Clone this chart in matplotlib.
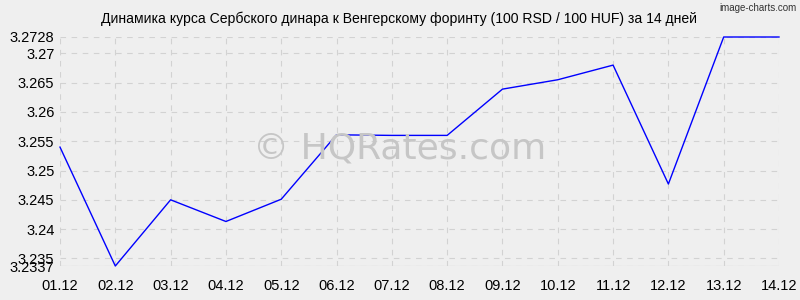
import matplotlib
matplotlib.use("Agg")
import matplotlib.pyplot as plt

dates = ["01.12", "02.12", "03.12", "04.12", "05.12", "06.12", "07.12",
         "08.12", "09.12", "10.12", "11.12", "12.12", "13.12", "14.12"]
rates = [3.2540, 3.2337, 3.2450, 3.2413, 3.2451, 3.2561, 3.2560,
         3.2560, 3.2639, 3.2655, 3.2680, 3.2477, 3.2728, 3.2728]
yticks = [3.2337, 3.235, 3.24, 3.245, 3.25, 3.255, 3.26, 3.265, 3.27, 3.2728]
ytick_labels = ["3.2337", "3.235", "3.24", "3.245", "3.25", "3.255", "3.26", "3.265", "3.27", "3.2728"]
title = "Динамика курса Сербского динара к Венгерскому форинту (100 RSD / 100 HUF) за 14 дней"

plt.rcParams['font.family'] = ['Liberation Sans', 'DejaVu Sans']
bg = "#efefef"
fig = plt.figure(figsize=(8, 3), dpi=100, facecolor=bg)
ax = fig.add_axes([60/800, 34/300, 719/800, 229/300], facecolor=bg)

x = list(range(len(dates)))
ax.plot(x, rates, color="#0000ff", linewidth=1.0, zorder=3, clip_on=False)

ax.set_xlim(0, len(dates) - 1)
ax.set_ylim(yticks[0], yticks[-1])
ax.set_xticks(x)
ax.set_xticklabels(dates)
ax.set_yticks(yticks)
ax.set_yticklabels(ytick_labels)
ax.tick_params(axis='both', length=0, labelsize=10.5, colors="#000000")
ax.tick_params(axis='x', pad=9)
ax.tick_params(axis='y', pad=4)
ax.grid(True, color="#d2d2d2", linestyle=(0, (5, 5)), linewidth=0.8)
for s in ax.spines.values():
    s.set_visible(False)
ax.axhline(yticks[0], color="#c0c0c0", linewidth=0.8, zorder=1)

fig.text(400/800, 1 - 148/300, "© HQRates.com", ha="center", va="center",
         fontsize=26, color="#c6c6c6", family=["DejaVu Sans"], zorder=2)

fig.text(399/800, 1 - 19/300, title, ha="center", va="center", fontsize=10.1, color="#000000")
fig.text(797/800, 1 - 8/300, "image-charts.com", ha="right", va="center", fontsize=7,
         color="#333333")

fig.savefig("out.png", dpi=100, facecolor=bg)
